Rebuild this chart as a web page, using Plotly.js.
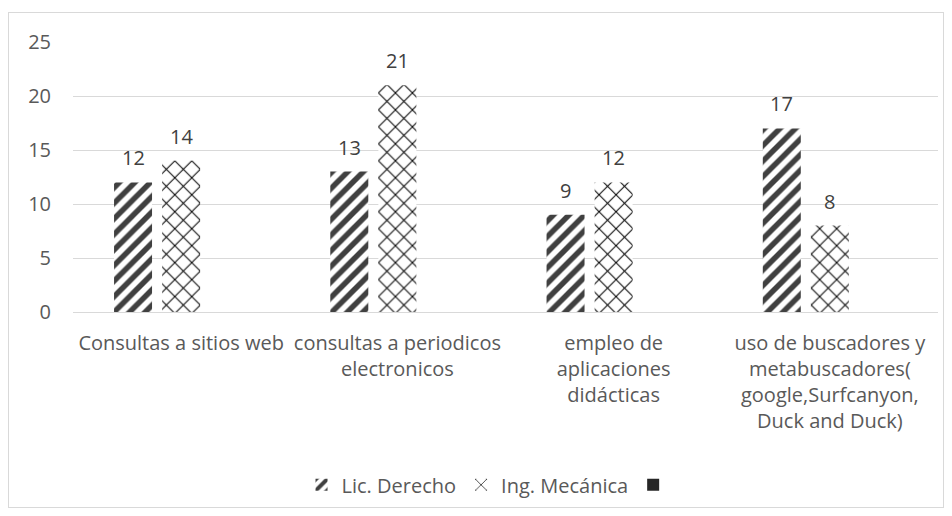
<!DOCTYPE html>
<html>
<head>
<meta charset="utf-8">
<script src="https://cdn.plot.ly/plotly-3.0.1.min.js"></script>
<style>
html,body{margin:0;padding:0;background:#fff;}
#wrap{position:relative;width:952px;height:516px;}
#chart{position:absolute;left:0;top:0;width:952px;height:516px;}
#frame{position:absolute;left:8px;top:12px;width:934px;height:494px;border:1px solid #d9d9d9;pointer-events:none;}
</style>
</head>
<body>
<div id="wrap"><div id="chart"></div><div id="frame"></div></div>
<script>
const categories = [
  "Consultas a sitios web",
  "consultas a periodicos<br>electronicos",
  "empleo de<br>aplicaciones<br>didácticas",
  "uso de buscadores y<br>metabuscadores(<br>google,Surfcanyon,<br>Duck and Duck)"
];
const seriesNames = ["Lic. Derecho", "Ing. Mecánica", " "];
const licDerecho = [12, 13, 9, 17];
const ingMecanica = [14, 21, 12, 8];
const tercera = [null, null, null, null];
const yTicks = [0, 5, 10, 15, 20, 25];

const font = "'Open Sans', sans-serif";
const W = 952, H = 516;
const margin = {l: 73, r: 14, t: 42, b: 202};
const bargap = 0.333, bargroupgap = 0.21;
const nSlots = 3;

// slot width in px, derived from layout so labels sit over their bars
const plotW = W - margin.l - margin.r;
const slotPx = plotW / categories.length * (1 - bargap) / nSlots;

const traces = [
  {
    type: 'bar', x: categories, y: licDerecho, name: seriesNames[0],
    marker: {color: '#ffffff', line: {width: 0},
      pattern: {shape: '/', fgcolor: '#404040', bgcolor: '#ffffff', size: 11, solidity: 0.5}}
  },
  {
    type: 'bar', x: categories, y: ingMecanica, name: seriesNames[1],
    marker: {color: '#ffffff', line: {width: 0},
      pattern: {shape: 'x', fgcolor: '#000000', bgcolor: '#ffffff', size: 12, solidity: 0.16}}
  },
  {
    type: 'bar', x: categories, y: tercera, name: seriesNames[2],
    marker: {color: '#262626', line: {width: 0}}, showlegend: true
  }
];

const annotations = [];
[licDerecho, ingMecanica].forEach((vals, i) => {
  vals.forEach((v, j) => {
    annotations.push({
      x: categories[j], y: v, xref: 'x', yref: 'y', text: String(v),
      showarrow: false, yanchor: 'bottom', xanchor: 'center',
      xshift: (i - (nSlots - 1) / 2) * slotPx, yshift: 9,
      font: {family: font, size: 20, color: '#404040'}
    });
  });
});

const layout = {
  width: W, height: H, margin: margin,
  paper_bgcolor: '#ffffff', plot_bgcolor: '#ffffff',
  font: {family: font, size: 20, color: '#595959'},
  barmode: 'group', bargap: bargap, bargroupgap: bargroupgap,
  showlegend: true,
  legend: {orientation: 'h', x: 0.485, xanchor: 'center', y: -0.64, yanchor: 'middle',
    font: {family: font, size: 20, color: '#595959'}, traceorder: 'normal'},
  annotations: annotations,
  xaxis: {type: 'category', showgrid: false, showline: false, ticks: '', zeroline: false,
    tickfont: {family: font, size: 20, color: '#595959'}, automargin: false, tickangle: 0,
    ticklabelstandoff: 17},
  yaxis: {range: [0, 25], tickvals: yTicks, ticktext: yTicks.map(String),
    showgrid: true, gridcolor: '#d9d9d9', gridwidth: 1, zeroline: true, zerolinecolor: '#d9d9d9',
    showline: false, ticks: '', ticklabelstandoff: 21,
    tickfont: {family: font, size: 20, color: '#595959'}, automargin: false}
};

Plotly.newPlot('chart', traces, layout, {displayModeBar: false, staticPlot: true});
</script>
</body>
</html>
